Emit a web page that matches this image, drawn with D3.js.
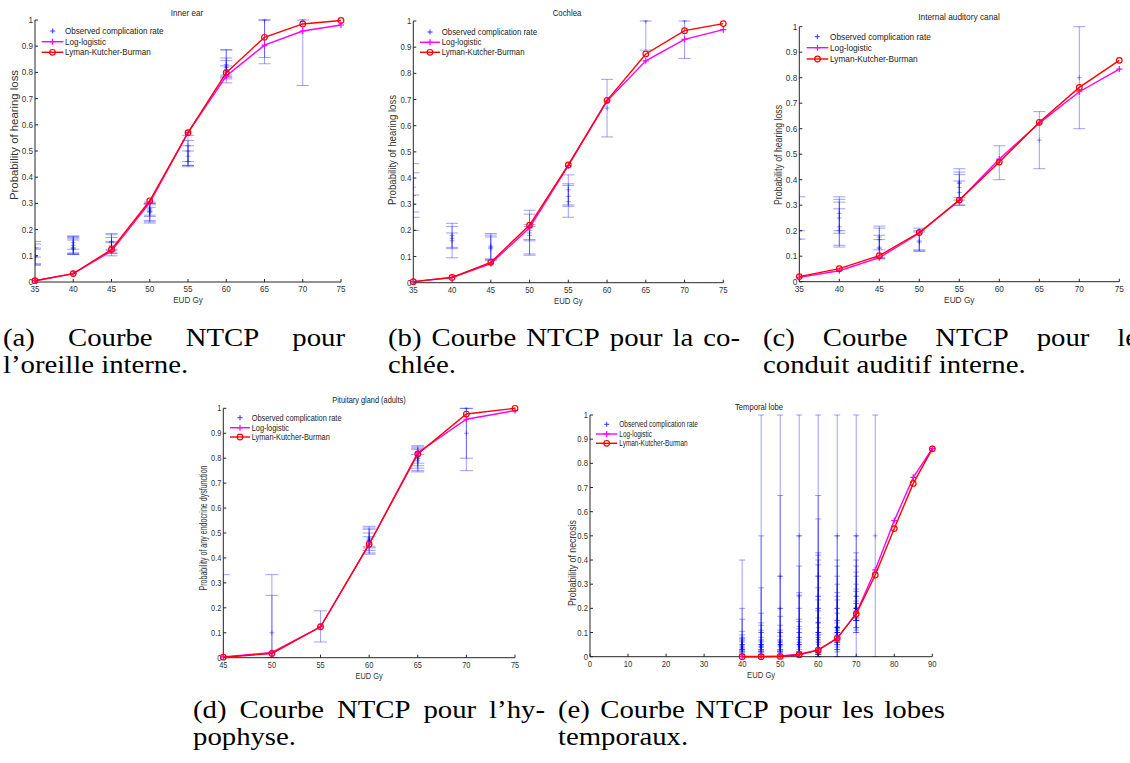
<!DOCTYPE html>
<html><head><meta charset="utf-8">
<script src="https://cdn.jsdelivr.net/npm/d3@7"></script>
<style>
body{margin:0;background:#fff}
svg{display:block}
.ax text{font-family:"Liberation Sans",Arial,Helvetica,sans-serif}
.cap{font-family:"Liberation Serif","Times New Roman",serif;font-size:25px;fill:#000}
</style>
</head><body>
<svg id="c" width="1130" height="763"></svg>
<script>
// ---------- shared ticks ----------
const yTicks = [0,0.1,0.2,0.3,0.4,0.5,0.6,0.7,0.8,0.9,1];
const xTicksEar = [35,40,45,50,55,60,65,70,75];
const xTicksPit = [45,50,55,60,65,70,75];
const xTicksTemp = [0,10,20,30,40,50,60,70,80,90];
const legendLabels = ["Observed complication rate","Log-logistic","Lyman-Kutcher-Burman"];

// ---------- (a) Inner ear ----------
const earDose = [35,40,45,50,55,60,65,70,75];
const earLogLogistic = [0.005,0.032,0.118,0.303,0.57,0.786,0.904,0.958,0.981];
const earLKB = [0.005,0.032,0.124,0.31,0.57,0.799,0.934,0.985,0.998];
// observed: [dose, rate, lower, upper]
const earObs = [
 [35,0.10,0.065,0.155],[35,0.095,0.07,0.13],[35,0.13,0.095,0.145],[35,0.10,0.065,0.125],
 [40,0.13,0.105,0.175],[40,0.14,0.11,0.17],[40,0.15,0.125,0.165],[40,0.13,0.105,0.16],[40,0.125,0.11,0.175],
 [45,0.14,0.10,0.185],[45,0.15,0.11,0.18],[45,0.155,0.125,0.17],[45,0.135,0.12,0.155],[45,0.13,0.11,0.15],
 [50,0.27,0.225,0.305],[50,0.275,0.235,0.30],[50,0.28,0.25,0.295],[50,0.265,0.255,0.285],[50,0.27,0.23,0.30],
 [55,0.52,0.44,0.56],[55,0.50,0.445,0.54],[55,0.48,0.46,0.52],[55,0.46,0.445,0.50],
 [60,0.82,0.76,0.887],[60,0.83,0.775,0.885],[60,0.80,0.785,0.855],[60,0.82,0.78,0.845],[60,0.81,0.79,0.825],
 [65,1.0,0.857,1.0],[65,0.9,0.833,1.0],
 [70,1.0,0.75,1.0]
];

// ---------- (b) Cochlea ----------
const cochDose = [35,40,45,50,55,60,65,70,75];
const cochLogLogistic = [0.004,0.02,0.073,0.21,0.447,0.694,0.848,0.93,0.967];
const cochLKB = [0.004,0.02,0.078,0.22,0.45,0.697,0.874,0.963,0.99];
const cochObs = [
 [35,0.333,0.2,0.455],[35,0.365,0.27,0.42],[35,0.3,0.25,0.335],
 [40,0.18,0.095,0.227],[40,0.17,0.13,0.215],[40,0.16,0.135,0.19],
 [45,0.135,0.085,0.188],[45,0.13,0.09,0.182],[45,0.14,0.09,0.175],
 [50,0.2,0.105,0.277],[50,0.21,0.11,0.262],[50,0.19,0.165,0.222],[50,0.18,0.16,0.215],
 [55,0.355,0.25,0.412],[55,0.31,0.292,0.378],[55,0.33,0.297,0.372],
 [60,0.667,0.557,0.777],
 [65,1.0,0.889,1.0],
 [70,1.0,0.857,1.0]
];

// ---------- (c) Internal auditory canal ----------
const iacDose = [35,40,45,50,55,60,65,70,75];
const iacLogLogistic = [0.017,0.043,0.094,0.19,0.319,0.481,0.622,0.745,0.834];
const iacLKB = [0.02,0.051,0.102,0.193,0.32,0.469,0.625,0.762,0.868];
const iacObs = [
 [35,0.2,0.167,0.333],[35,0.167,0.0,0.2],
 [40,0.25,0.136,0.333],[40,0.215,0.143,0.323],[40,0.2,0.19,0.312],[40,0.268,0.2,0.286],
 [45,0.165,0.09,0.218],[45,0.135,0.095,0.21],[45,0.175,0.125,0.182],[45,0.13,0.09,0.165],
 [50,0.16,0.12,0.21],[50,0.155,0.125,0.2],[50,0.19,0.12,0.195],
 [55,0.39,0.3,0.443],[55,0.35,0.32,0.43],[55,0.37,0.33,0.42],[55,0.385,0.3,0.395],
 [60,0.467,0.4,0.533],
 [65,0.555,0.443,0.667],
 [70,0.8,0.6,1.0]
];

// ---------- (d) Pituitary gland (adults) ----------
const pitDose = [45,50,55,60,65,70,75];
const pitLogLogistic = [0.003,0.021,0.124,0.455,0.822,0.956,0.991];
const pitLKB = [0.002,0.017,0.124,0.455,0.817,0.977,1.0];
const pitObs = [
 [45,0.0,0.0,0.333],
 [50,0.02,0.0,0.333],[50,0.1,0.0,0.25],
 [55,0.125,0.063,0.188],
 [60,0.47,0.42,0.527],[60,0.475,0.43,0.515],[60,0.48,0.445,0.5],[60,0.46,0.415,0.485],[60,0.47,0.44,0.52],
 [65,0.81,0.745,0.85],[65,0.8,0.75,0.845],[65,0.82,0.76,0.84],[65,0.79,0.77,0.835],[65,0.8,0.78,0.815],
 [70,1.0,0.75,1.0],[70,0.9,0.8,1.0]
];

// ---------- (e) Temporal lobe ----------
const tempDose = [40,45,50,55,60,65,70,75,80,85,90];
const tempLogLogistic = [0.001,0.001,0.003,0.01,0.028,0.075,0.18,0.359,0.563,0.742,0.861];
const tempLKB = [0.0,0.0,0.001,0.008,0.027,0.077,0.177,0.338,0.53,0.717,0.86];
const tempObs = [
 [40,0.05,0,0.4],[40,0.04,0,0.2],[40,0.03,0.01,0.155],[40,0.05,0.02,0.105],[40,0.06,0.03,0.09],[40,0.04,0.02,0.08],[40,0.05,0.03,0.07],[40,0.045,0.025,0.075],[40,0.035,0.015,0.065],
 [45,0.0,0,1.0],[45,0.1,0,0.5],[45,0.05,0,0.285],[45,0.04,0.01,0.18],[45,0.05,0.02,0.14],[45,0.04,0.01,0.13],[45,0.06,0.03,0.11],[45,0.05,0.025,0.1],[45,0.045,0.02,0.08],[45,0.04,0.02,0.07],[45,0.05,0.03,0.065],
 [50,0.333,0,1.0],[50,0.2,0,0.667],[50,0.1,0,0.333],[50,0.05,0,0.2],[50,0.06,0.01,0.167],[50,0.05,0.02,0.13],[50,0.06,0.03,0.11],[50,0.05,0.02,0.1],[50,0.04,0.02,0.085],[50,0.05,0.03,0.07],[50,0.045,0.025,0.065],
 [55,0.5,0,1.0],[55,0.25,0,0.5],[55,0.125,0,0.375],[55,0.1,0,0.265],[55,0.08,0,0.255],[55,0.05,0,0.2],[55,0.06,0.01,0.155],[55,0.05,0.01,0.145],[55,0.06,0.02,0.115],[55,0.05,0.02,0.1],[55,0.04,0.02,0.08],[55,0.05,0.03,0.07],
 [60,0.333,0,1.0],[60,0.25,0,0.667],[60,0.2,0,0.57],[60,0.143,0,0.43],[60,0.14,0,0.42],[60,0.1,0,0.4],[60,0.12,0.01,0.38],[60,0.1,0,0.333],[60,0.08,0,0.285],[60,0.1,0.01,0.25],[60,0.09,0.01,0.235],[60,0.07,0.01,0.2],[60,0.08,0.02,0.19],[60,0.06,0.02,0.16],[60,0.07,0.02,0.14],[60,0.05,0.02,0.1],[60,0.06,0.03,0.09],
 [65,0.5,0,1.0],[65,0.2,0,0.5],[65,0.15,0,0.4],[65,0.125,0.02,0.375],[65,0.12,0.03,0.333],[65,0.1,0.03,0.3],[65,0.12,0.05,0.265],[65,0.11,0.04,0.25],[65,0.1,0.05,0.235],[65,0.12,0.06,0.2],[65,0.1,0.06,0.18],[65,0.12,0.07,0.15],[65,0.11,0.07,0.14],[65,0.1,0.065,0.12],[65,0.09,0.06,0.1],
 [70,0.5,0,1.0],[70,0.25,0.1,0.5],[70,0.2,0.1,0.43],[70,0.2,0.12,0.4],[70,0.2,0.15,0.375],[70,0.2,0.15,0.35],[70,0.22,0.16,0.333],[70,0.2,0.15,0.3],[70,0.2,0.16,0.28],[70,0.2,0.18,0.27],[70,0.2,0.15,0.25],[70,0.19,0.12,0.23],[70,0.18,0.11,0.22],
 [75,0.5,0,1.0]
];

// ---------- captions ----------
const captions = [
 {lines:[["(a) Courbe NTCP pour", true],["l’oreille interne.", false]], x0:3, x1:345, y:346},
 {lines:[["(b) Courbe NTCP pour la co-", true],["chlée.", false]], x0:388, x1:740, y:346},
 {lines:[["(c) Courbe NTCP pour le", true],["conduit auditif interne.", false]], x0:763, x1:1138, y:346},
 {lines:[["(d) Courbe NTCP pour l’hy-", true],["pophyse.", false]], x0:193, x1:545, y:718},
 {lines:[["(e) Courbe NTCP pour les lobes", true],["temporaux.", false]], x0:558, x1:945, y:718}
];

// ---------- panel layout ----------
const panels = [
 {id:"a", title:"Inner ear", ylab:"Probability of hearing loss", dose:earDose, ll:earLogLogistic, lkb:earLKB, obs:earObs, xt:xTicksEar, dom:[35,75],
  x0:35, x1:341, yT:20, yB:282, tx:187, ty:13, ylx:14, yly:135, yll:130, sx:0.9, cw:6,
  leg:{mx:52.7, l1:41.7, l2:63.3, tx:65, ys:[31,41.7,52.3], fs:9, sx:0.9}},
 {id:"b", title:"Cochlea", ylab:"Probability of hearing loss", dose:cochDose, ll:cochLogLogistic, lkb:cochLKB, obs:cochObs, xt:xTicksEar, dom:[35,75],
  x0:413.3, x1:723.3, yT:21, yB:282.7, tx:567, ty:13, ylx:392, yly:150, yll:110, sx:0.87, cw:6,
  leg:{mx:430, l1:420, l2:440, tx:441.7, ys:[32,42.3,52.3], fs:9, sx:0.87}},
 {id:"c", title:"Internal auditory canal", ylab:"Probability of hearing loss", dose:iacDose, ll:iacLogLogistic, lkb:iacLKB, obs:iacObs, xt:xTicksEar, dom:[35,75],
  x0:799.3, x1:1119.3, yT:26.7, yB:281.7, tx:959, ty:17, ylx:778, yly:155, yll:100, sx:0.92, cw:6,
  leg:{mx:817.3, l1:806.7, l2:828.3, tx:830, ys:[36.7,47.7,59], fs:9, sx:0.92}},
 {id:"d", title:"Pituitary gland (adults)", ylab:"Probability of any endocrine dysfunction", dose:pitDose, ll:pitLogLogistic, lkb:pitLKB, obs:pitObs, xt:xTicksPit, dom:[45,75],
  x0:223.3, x1:515, yT:408.3, yB:657.7, tx:369, ty:400, ylx:203, yly:528, yll:125, sx:0.82, cw:6.5,
  leg:{mx:240, l1:230, l2:250, tx:251.7, ys:[417.7,427.7,437], fs:9, sx:0.82}},
 {id:"e", title:"Temporal lobe", ylab:"Probability of  necrosis", dose:tempDose, ll:tempLogLogistic, lkb:tempLKB, obs:tempObs, xt:xTicksTemp, dom:[0,90],
  x0:590, x1:932.3, yT:415, yB:656.7, tx:759, ty:407, ylx:572, yly:563, yll:86, sx:0.85, cw:3,
  leg:{mx:606.7, l1:596, l2:617.3, tx:619.3, ys:[424.3,434,443.3], fs:8.5, sx:0.76, clip:698}}
];

const svg = d3.select("#c");
svg.append("rect").attr("width",1130).attr("height",763).attr("fill","#fff");
const defs = svg.append("defs");

function squeeze(sel, f){
  sel.each(function(){
    const L = this.getComputedTextLength();
    d3.select(this).attr("textLength", L*f).attr("lengthAdjust","spacingAndGlyphs");
  });
  return sel;
}

const obsColor = "rgba(0,0,255,0.38)";
const axisColor = "#262626";

panels.forEach(p => {
  const g = svg.append("g").attr("class","ax");
  const x = d3.scaleLinear().domain(p.dom).range([p.x0,p.x1]);
  const y = d3.scaleLinear().domain([0,1]).range([p.yB,p.yT]);

  defs.append("clipPath").attr("id","clip-"+p.id).append("rect")
    .attr("x",p.x0).attr("y",p.yT-1).attr("width",p.x1-p.x0+1).attr("height",p.yB-p.yT+1.5);

  // observed error bars
  const ob = g.append("g").attr("clip-path","url(#clip-"+p.id+")")
    .attr("stroke",obsColor).attr("stroke-width",1).attr("fill","none");
  p.obs.forEach(d => {
    const cx = x(d[0]);
    ob.append("line").attr("x1",cx).attr("x2",cx).attr("y1",y(d[2])).attr("y2",y(d[3]));
    ob.append("line").attr("x1",cx-p.cw).attr("x2",cx+p.cw).attr("y1",y(d[2])).attr("y2",y(d[2]));
    ob.append("line").attr("x1",cx-p.cw).attr("x2",cx+p.cw).attr("y1",y(d[3])).attr("y2",y(d[3]));
    ob.append("path").attr("d",`M${cx-2.5},${y(d[1])}h5M${cx},${y(d[1])-2.5}v5`);
  });

  // axes
  const ax = g.append("g");
  ax.append("line").attr("x1",p.x0).attr("x2",p.x1).attr("y1",p.yB).attr("y2",p.yB).attr("stroke",axisColor);
  ax.append("line").attr("x1",p.x0).attr("x2",p.x0).attr("y1",p.yT).attr("y2",p.yB).attr("stroke",axisColor);
  p.xt.forEach(t => {
    ax.append("line").attr("x1",x(t)).attr("x2",x(t)).attr("y1",p.yB).attr("y2",p.yB-3).attr("stroke",axisColor);
    squeeze(ax.append("text").attr("x",x(t)).attr("y",p.yB+10).attr("text-anchor","middle")
      .attr("font-size",9).attr("fill","#333").text(d3.format("~g")(t)), p.sx);
  });
  yTicks.forEach(t => {
    ax.append("line").attr("x1",p.x0).attr("x2",p.x0+3).attr("y1",y(t)).attr("y2",y(t)).attr("stroke",axisColor);
    squeeze(ax.append("text").attr("x",p.x0-2).attr("y",y(t)+3).attr("text-anchor","end")
      .attr("font-size",9).attr("fill","#333").text(d3.format("~g")(t)), p.sx);
  });

  // fitted curves
  const line = d3.line().x((d,i)=>x(p.dose[i])).y(d=>y(d));
  g.append("path").attr("d",line(p.ll)).attr("fill","none").attr("stroke","#ff00ff").attr("stroke-width",1.4);
  p.ll.forEach((v,i)=>{
    const cx=x(p.dose[i]), cy=y(v);
    g.append("path").attr("d",`M${cx-3},${cy}h6M${cx},${cy-3}v6`).attr("stroke","#ff00ff").attr("stroke-width",1.2);
  });
  g.append("path").attr("d",line(p.lkb)).attr("fill","none").attr("stroke","#ff0000").attr("stroke-width",1.4);
  p.lkb.forEach((v,i)=>{
    g.append("circle").attr("cx",x(p.dose[i])).attr("cy",y(v)).attr("r",2.8)
      .attr("fill","none").attr("stroke","#ff0000").attr("stroke-width",1.2);
  });

  // title / labels
  squeeze(g.append("text").attr("x",p.tx).attr("y",p.ty+3).attr("text-anchor","middle")
    .attr("font-size",9).attr("fill","#222").text(p.title), p.sx);
  squeeze(g.append("text").attr("x",(p.x0+p.x1)/2).attr("y",p.yB+21).attr("text-anchor","middle")
    .attr("font-size",9).attr("fill","#333").text("EUD Gy"), p.sx);
  g.append("text").attr("transform",`translate(${p.ylx+3.5},${p.yly}) rotate(-90)`).attr("text-anchor","middle")
    .attr("font-size",10).attr("fill","#333").attr("textLength",p.yll).attr("lengthAdjust","spacingAndGlyphs").text(p.ylab);

  // legend
  const L = p.leg;
  const lg = g.append("g");
  if (L.clip){
    defs.append("clipPath").attr("id","lclip-"+p.id).append("rect")
      .attr("x",L.tx-2).attr("y",L.ys[0]-8).attr("width",L.clip-L.tx+2).attr("height",40);
  }
  lg.append("path").attr("d",`M${L.mx-2.5},${L.ys[0]}h5M${L.mx},${L.ys[0]-2.5}v5`).attr("stroke","#3333ff").attr("stroke-width",1);
  lg.append("line").attr("x1",L.l1).attr("x2",L.l2).attr("y1",L.ys[1]).attr("y2",L.ys[1]).attr("stroke","#ff00ff").attr("stroke-width",1.4);
  lg.append("path").attr("d",`M${(L.l1+L.l2)/2-3},${L.ys[1]}h6M${(L.l1+L.l2)/2},${L.ys[1]-3}v6`).attr("stroke","#ff00ff").attr("stroke-width",1.2);
  lg.append("line").attr("x1",L.l1).attr("x2",L.l2).attr("y1",L.ys[2]).attr("y2",L.ys[2]).attr("stroke","#ff0000").attr("stroke-width",1.4);
  lg.append("circle").attr("cx",(L.l1+L.l2)/2).attr("cy",L.ys[2]).attr("r",2.8).attr("fill","none").attr("stroke","#ff0000").attr("stroke-width",1.2);
  const lt = lg.append("g");
  if (L.clip) lt.attr("clip-path","url(#lclip-"+p.id+")");
  legendLabels.forEach((t,i)=>{
    squeeze(lt.append("text").attr("x",L.tx).attr("y",L.ys[i]+3).attr("font-size",L.fs).attr("fill","#222").text(t), L.sx);
  });
});

// captions (justified first line, like LaTeX subcaptions); glyphs widened to mimic Computer Modern
const capStretch = 1.15;
const cg = svg.append("g");
captions.forEach(c => {
  c.lines.forEach((ln,li) => {
    const yy = c.y + li*26.5;
    if (ln[1]) {
      const words = ln[0].split(" ");
      const nodes = words.map(w => cg.append("text").attr("class","cap").attr("y",yy).text(w));
      const widths = nodes.map(n => n.node().getComputedTextLength()*capStretch);
      nodes.forEach((n,i)=> n.attr("textLength",widths[i]).attr("lengthAdjust","spacingAndGlyphs"));
      const gap = (c.x1 - c.x0 - d3.sum(widths)) / (words.length-1);
      let xx = c.x0;
      nodes.forEach((n,i)=>{ n.attr("x",xx); xx += widths[i]+gap; });
    } else {
      const t = cg.append("text").attr("class","cap").attr("x",c.x0).attr("y",yy).text(ln[0]);
      t.attr("textLength", t.node().getComputedTextLength()*capStretch).attr("lengthAdjust","spacingAndGlyphs");
    }
  });
});
</script>
</body></html>
